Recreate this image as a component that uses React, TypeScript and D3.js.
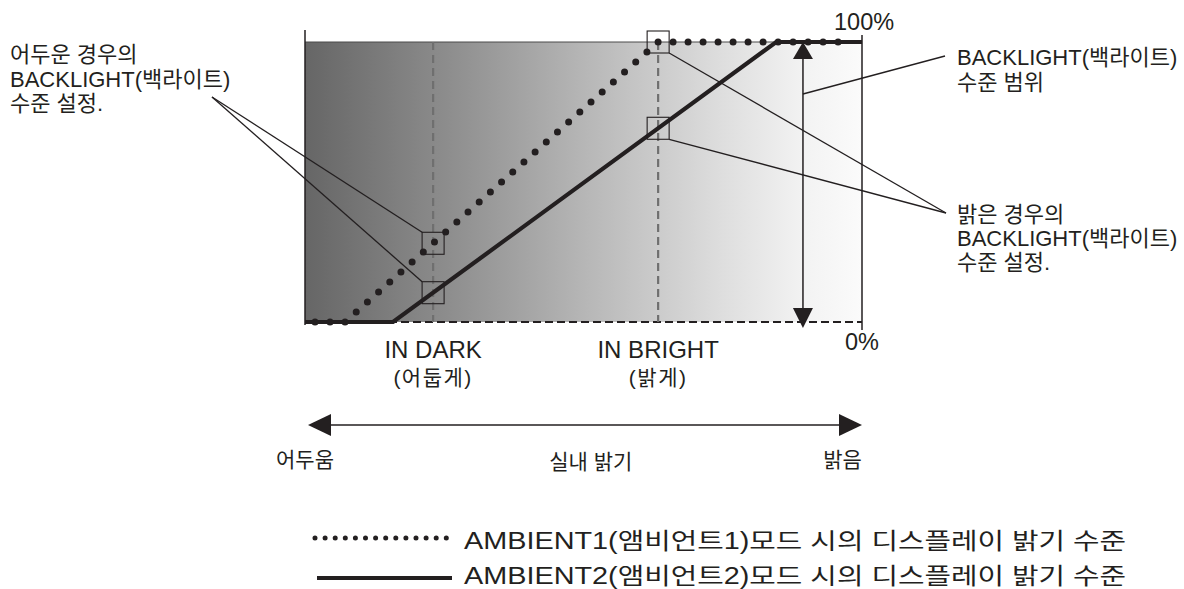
import React from "react";
import * as d3 from "d3";

// ---- data ----
const brightness1 = [1.8, 7.2, 63.4, 97.5];
const level1 = [0, 0, 100, 100];
const brightness2 = [0, 15.8, 84.6, 100];
const level2 = [0, 0, 100, 100];
const markerPositions = [23.0, 63.4];
const markerLabels = ["IN DARK", "IN BRIGHT"];
const markerSubLabels = ["(어둡게)", "(밝게)"];
const levelTickLabels = ["100%", "0%"];
const rangeArrowAt = 89.4;
const axisEndLabels = ["어두움", "밝음"];
const axisTitle = "실내 밝기";
const legendLabels = [
  "AMBIENT1(앰비언트1)모드 시의 디스플레이 밝기 수준",
  "AMBIENT2(앰비언트2)모드 시의 디스플레이 밝기 수준",
];
const darkNote = ["어두운 경우의", "BACKLIGHT(백라이트)", "수준 설정."];
const rangeNote = ["BACKLIGHT(백라이트)", "수준 범위"];
const brightNote = ["밝은 경우의", "BACKLIGHT(백라이트)", "수준 설정."];

const INK = "#231f20";
const FONT = "'Liberation Sans', Arial, 'Noto Sans CJK KR', sans-serif";

export default function App() {
  const x = d3.scaleLinear().domain([0, 100]).range([305, 862]);
  const y = d3.scaleLinear().domain([0, 100]).range([322, 42]);
  const f1 = d3.scaleLinear().domain(brightness1).range(level1).clamp(true);
  const f2 = d3.scaleLinear().domain(brightness2).range(level2).clamp(true);

  const line = d3
    .line<[number, number]>()
    .x((d) => x(d[0]))
    .y((d) => y(d[1]));
  const path1 = line(brightness1.map((b, i) => [b, level1[i]]))!;
  const path2 = line(brightness2.map((b, i) => [b, level2[i]]))!;

  const box = 22;
  const boxes = [
    { cx: x(markerPositions[0]), cy: y(f1(markerPositions[0])) },
    { cx: x(markerPositions[0]), cy: y(f2(markerPositions[0])) },
    { cx: x(markerPositions[1]), cy: y(f1(markerPositions[1])) },
    { cx: x(markerPositions[1]), cy: y(f2(markerPositions[1])) },
  ];

  const ax = x(rangeArrowAt);
  const top = y(100);
  const bot = y(0);

  const darkApex = [212, 97];
  const brightApex = [946, 213];

  const arrowY = 425;
  const ax0 = x(0) + 3;
  const ax1 = x(100);

  return (
    <svg
      width={1184}
      height={589}
      style={{ position: "absolute", left: 0, top: 0, background: "#fff" }}
      fontFamily={FONT}
      fill={INK}
    >
      <defs>
        <linearGradient id="bg" gradientUnits="userSpaceOnUse" x1={x(0)} x2={x(100)} y1={0} y2={0}>
          <stop offset="0" stopColor="#666666" />
          <stop offset="0.25" stopColor="#8c8c8c" />
          <stop offset="0.5" stopColor="#b6b6b6" />
          <stop offset="0.75" stopColor="#dedede" />
          <stop offset="0.9" stopColor="#f3f3f3" />
          <stop offset="1" stopColor="#fbfbfb" />
        </linearGradient>
      </defs>

      {/* background gradient */}
      <rect x={x(0)} y={top} width={x(100) - x(0)} height={bot - top} fill="url(#bg)" />
      <line x1={x(0)} x2={x(100)} y1={top} y2={top} stroke="#4a4a4a" strokeWidth={1} />

      {/* axes */}
      <line x1={x(0)} x2={x(0)} y1={30} y2={325} stroke={INK} strokeWidth={1.5} />
      <line x1={x(100)} x2={x(100)} y1={35} y2={330} stroke={INK} strokeWidth={1.5} />
      <line x1={x(0)} x2={x(100)} y1={bot} y2={bot} stroke={INK} strokeWidth={2} strokeDasharray="8 4" />

      {/* marker dashed verticals */}
      {markerPositions.map((m, i) => (
        <line key={i} x1={x(m)} x2={x(m)} y1={top} y2={bot} stroke="#6f6f6f" strokeWidth={2.2} strokeDasharray="8 5" />
      ))}

      {/* series */}
      <path d={path2} fill="none" stroke={INK} strokeWidth={4.2} />
      <path d={path1} fill="none" stroke={INK} strokeWidth={7} strokeDasharray="0 15" strokeLinecap="round" />

      {/* boxes */}
      {boxes.map((b, i) => (
        <rect key={i} x={b.cx - box / 2} y={b.cy - box / 2} width={box} height={box} fill="none" stroke={INK} strokeWidth={1.1} />
      ))}

      {/* range double arrow */}
      <line x1={ax} x2={ax} y1={top + 10} y2={bot - 10} stroke={INK} strokeWidth={1.5} />
      <path d={`M${ax},${top} L${ax - 10},${top + 17} L${ax + 10},${top + 17} Z`} fill={INK} />
      <path d={`M${ax},${bot + 6} L${ax - 10},${bot - 14} L${ax + 10},${bot - 14} Z`} fill={INK} />

      {/* callouts */}
      <g stroke={INK} strokeWidth={1.3} fill="none">
        <line x1={darkApex[0]} y1={darkApex[1]} x2={boxes[0].cx - box / 2} y2={boxes[0].cy - box / 2} />
        <line x1={darkApex[0]} y1={darkApex[1]} x2={boxes[1].cx - box / 2} y2={boxes[1].cy - box / 2} />
        <line x1={brightApex[0]} y1={brightApex[1]} x2={boxes[2].cx + box / 2} y2={boxes[2].cy + box / 2} />
        <line x1={brightApex[0]} y1={brightApex[1]} x2={boxes[3].cx + box / 2} y2={boxes[3].cy + box / 2} />
        <line x1={ax} y1={94} x2={945} y2={56} />
      </g>

      {/* tick labels */}
      <text x={834} y={30} fontSize={23.5}>{levelTickLabels[0]}</text>
      <text x={845} y={350} fontSize={23.5}>{levelTickLabels[1]}</text>

      {/* annotations */}
      {darkNote.map((t, i) => (
        <text key={i} x={10} y={62 + i * 24.5} fontSize={22}>{t}</text>
      ))}
      {rangeNote.map((t, i) => (
        <text key={i} x={957} y={65 + i * 24.5} fontSize={22}>{t}</text>
      ))}
      {brightNote.map((t, i) => (
        <text key={i} x={957} y={222 + i * 24} fontSize={22}>{t}</text>
      ))}

      {/* marker labels */}
      {markerPositions.map((m, i) => (
        <g key={i}>
          <text x={x(m)} y={358} fontSize={24} textAnchor="middle">{markerLabels[i]}</text>
          <text x={x(m)} y={385} fontSize={21} textAnchor="middle" letterSpacing={1.5}>{markerSubLabels[i]}</text>
        </g>
      ))}

      {/* brightness axis arrow */}
      <line x1={ax0 + 10} x2={ax1 - 10} y1={arrowY} y2={arrowY} stroke={INK} strokeWidth={1.5} />
      <path d={`M${ax0},${arrowY} L${ax0 + 23},${arrowY - 11} L${ax0 + 23},${arrowY + 11} Z`} fill={INK} />
      <path d={`M${ax1},${arrowY} L${ax1 - 23},${arrowY - 11} L${ax1 - 23},${arrowY + 11} Z`} fill={INK} />
      <text x={x(0)} y={467} fontSize={21} textAnchor="middle">{axisEndLabels[0]}</text>
      <text x={x(96.5)} y={467} fontSize={21} textAnchor="middle">{axisEndLabels[1]}</text>
      <text x={x(51.3)} y={469} fontSize={21} textAnchor="middle">{axisTitle}</text>

      {/* legend */}
      <line x1={315} x2={447} y1={538} y2={538} stroke={INK} strokeWidth={5} strokeDasharray="0 10.1" strokeLinecap="round" />
      <line x1={317} x2={452} y1={578} y2={578} stroke={INK} strokeWidth={4} />
      {legendLabels.map((t, i) => (
        <text key={i} x={464} y={549 + i * 35} fontSize={23} textLength={662} lengthAdjust="spacingAndGlyphs">{t}</text>
      ))}
    </svg>
  );
}
